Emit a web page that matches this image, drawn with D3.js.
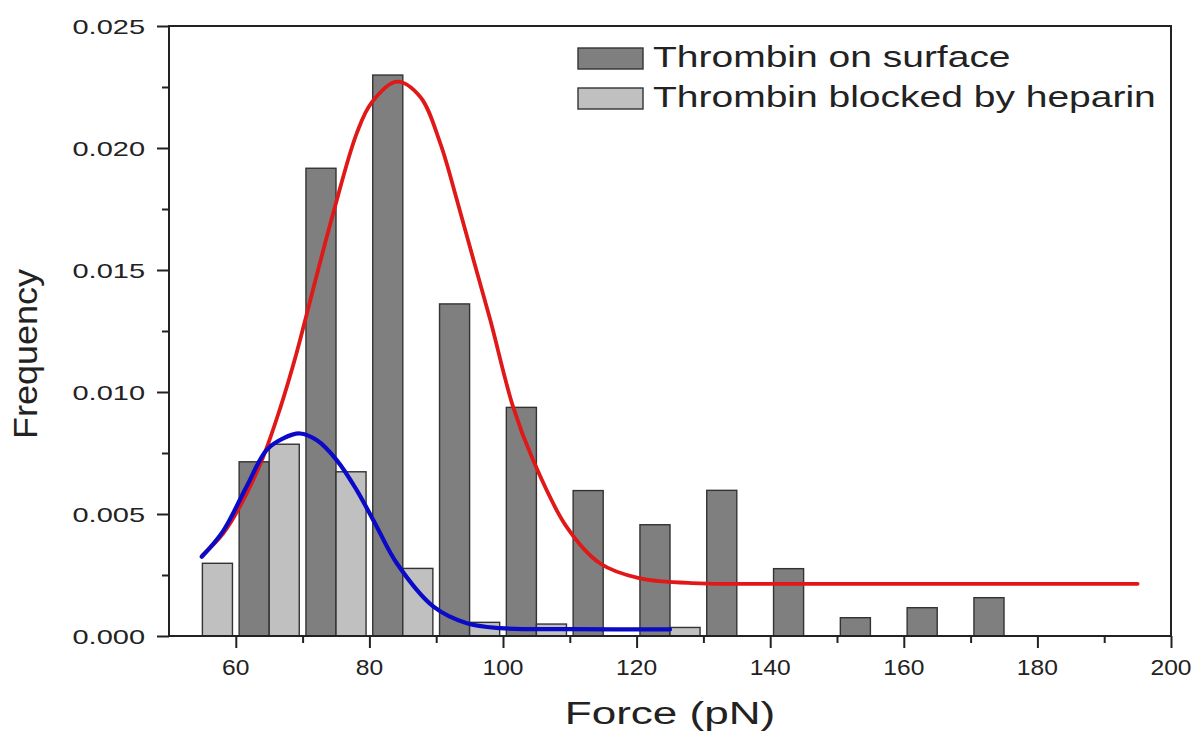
<!DOCTYPE html>
<html>
<head>
<meta charset="utf-8">
<script src="https://cdn.jsdelivr.net/npm/d3@7"></script>
<style>
  html, body { margin: 0; padding: 0; background: #fff; }
  svg { display: block; }
  text { font-family: "Liberation Sans", Arial, sans-serif; fill: #222; }
</style>
</head>
<body>
<svg id="chart" width="1195" height="733"></svg>
<script>
// ---------------- data ----------------
const binCenters = [55, 65, 75, 85, 95, 105, 115, 125, 135, 145, 155, 165, 175];
const surfaceFreq = [0, 0.00714, 0.01917, 0.02299, 0.01361, 0.00937, 0.00596, 0.00456, 0.00597, 0.00276, 0.00075, 0.00116, 0.00157];
const heparinFreq = [0.00298, 0.00786, 0.00673, 0.00277, 0.00056, 0.00049, 0, 0.00035, 0, 0, 0, 0, 0];

const surfaceFitX = [55, 58.1, 60.6, 63.9, 66.6, 69.1, 71.0, 74.6, 78.1, 80.3, 84.1, 87.6, 90.6, 93.1, 95.6, 98.1, 101.5, 104.5, 109.5, 114.5, 120.5, 129.5, 140, 160, 180, 195];
const surfaceFitY = [0.0033, 0.0042, 0.0053, 0.0072, 0.0093, 0.0116, 0.0136, 0.01735, 0.0206, 0.02185, 0.02272, 0.0221, 0.0202, 0.01787, 0.0154, 0.01295, 0.0094, 0.00721, 0.00448, 0.00298, 0.00236, 0.00216, 0.00214, 0.00214, 0.00214, 0.00214];

const heparinFitX = [54.9, 58.1, 61.6, 64.6, 67.1, 69.6, 72.1, 75.1, 78.1, 81.1, 84.1, 89.6, 94.6, 99.6, 110, 125];
const heparinFitY = [0.00325, 0.0043, 0.00612, 0.00762, 0.0081, 0.0083, 0.00803, 0.00721, 0.00598, 0.00448, 0.00298, 0.0012, 0.00052, 0.00032, 0.00028, 0.00027];

const xMajorTicks = [60, 80, 100, 120, 140, 160, 180, 200];
const xMinorTicks = [70, 90, 110, 130, 150, 170, 190];
const yMajorTicks = [0, 0.005, 0.010, 0.015, 0.020, 0.025];
const yMinorTicks = [0.0025, 0.0075, 0.0125, 0.0175, 0.0225];

const seriesNames = ["Thrombin on surface", "Thrombin blocked by heparin"];
const xTitle = "Force (pN)";
const yTitle = "Frequency";

// ---------------- layout ----------------
const svg = d3.select("#chart");
const L = 169, R = 1171, T = 26, B = 636;
const x = d3.scaleLinear().domain([50, 200]).range([L, R]);
const y = d3.scaleLinear().domain([0, 0.025]).range([B, T]);

const binWidth = 10, gapFrac = 0.1;
const barW = binWidth * (1 - gapFrac) / 2;
const darkFill = "#7f7f7f", lightFill = "#c0c0c0", barStroke = "#333";

// helper: horizontally stretched text
function stext(g, tx, ty, str, size, sx, anchor, rot) {
  return g.append("text")
    .attr("transform", `translate(${tx},${ty})` + (rot ? ` rotate(${rot})` : "") + ` scale(${sx},1)`)
    .attr("font-size", size)
    .attr("text-anchor", anchor || "start")
    .text(str);
}

// bars
const bars = svg.append("g");
binCenters.forEach((c, i) => {
  if (surfaceFreq[i] > 0) {
    bars.append("rect")
      .attr("x", x(c - barW)).attr("width", x(c) - x(c - barW))
      .attr("y", y(surfaceFreq[i])).attr("height", y(0) - y(surfaceFreq[i]))
      .attr("fill", darkFill).attr("stroke", barStroke).attr("stroke-width", 1.4);
  }
  if (heparinFreq[i] > 0) {
    bars.append("rect")
      .attr("x", x(c)).attr("width", x(c + barW) - x(c))
      .attr("y", y(heparinFreq[i])).attr("height", y(0) - y(heparinFreq[i]))
      .attr("fill", lightFill).attr("stroke", barStroke).attr("stroke-width", 1.4);
  }
});

// fit curves
const line = d3.line().x(d => x(d[0])).y(d => y(d[1])).curve(d3.curveCatmullRom.alpha(0.5));
svg.append("path")
  .datum(surfaceFitX.map((v, i) => [v, surfaceFitY[i]]))
  .attr("d", line).attr("fill", "none")
  .attr("stroke", "#e01818").attr("stroke-width", 3.8).attr("stroke-linecap", "round");
svg.append("path")
  .datum(heparinFitX.map((v, i) => [v, heparinFitY[i]]))
  .attr("d", line).attr("fill", "none")
  .attr("stroke", "#0a0ac8").attr("stroke-width", 4.2).attr("stroke-linecap", "round");

// axes
const axisColor = "#222";
const xAxis = svg.append("g").attr("transform", `translate(0,${B})`)
  .call(d3.axisBottom(x).tickValues(xMajorTicks).tickSize(12).tickFormat(""));
const xMinor = svg.append("g").attr("transform", `translate(0,${B})`)
  .call(d3.axisBottom(x).tickValues(xMinorTicks).tickSize(7).tickFormat(""));
const yAxis = svg.append("g").attr("transform", `translate(${L},0)`)
  .call(d3.axisLeft(y).tickValues(yMajorTicks).tickSize(12).tickFormat(""));
const yMinor = svg.append("g").attr("transform", `translate(${L},0)`)
  .call(d3.axisLeft(y).tickValues(yMinorTicks).tickSize(7).tickFormat(""));

[xAxis, xMinor, yAxis, yMinor].forEach(g => {
  g.selectAll(".domain").remove();
  g.selectAll(".tick line").attr("stroke", axisColor).attr("stroke-width", 2);
});

// tick labels (stretched to match reference proportions)
const labG = svg.append("g");
xMajorTicks.forEach(v => {
  stext(labG, x(v), 675, d3.format("d")(v), 22, 1.12, "middle");
});
yMajorTicks.forEach(v => {
  stext(labG, 145, y(v) + 7.5, d3.format(".3f")(v), 21, 1.38, "end");
});

// frame
svg.append("rect")
  .attr("x", L).attr("y", T).attr("width", R - L).attr("height", B - T)
  .attr("fill", "none").attr("stroke", axisColor).attr("stroke-width", 2);

// axis titles
stext(svg, (L + R) / 2, 724, xTitle, 31, 1.42, "middle");
stext(svg, 37, 354, yTitle, 33, 1.09, "middle", -90);

// legend
const legend = svg.append("g");
const legY = [48, 88];
const legFill = [darkFill, lightFill];
seriesNames.forEach((name, i) => {
  legend.append("rect")
    .attr("x", 578).attr("y", legY[i]).attr("width", 65).attr("height", 21)
    .attr("fill", legFill[i]).attr("stroke", barStroke).attr("stroke-width", 1.4);
  stext(legend, 653, legY[i] + 19, name, 30, 1.3, "start");
});
</script>
</body>
</html>
